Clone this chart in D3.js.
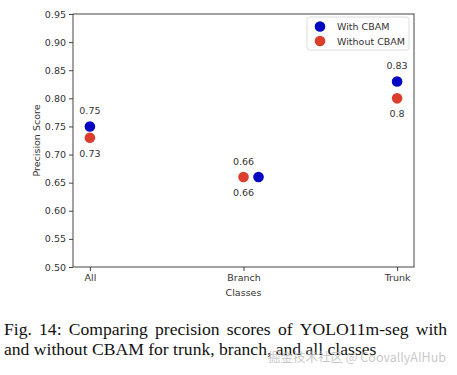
<!DOCTYPE html>
<head>
  <meta charset="utf-8">
  <script src="https://d3js.org/d3.v7.min.js"></script>
  <style>
    body { margin:0; padding:0; background:#fff; }
  </style>
</head>
<body>
  <svg id="chart" width="457" height="375"></svg>
  <script>
    // values
    var categories  = ["All", "Branch", "Trunk"];
    var withCbam    = [0.75, 0.66, 0.83];
    var withoutCbam = [0.73, 0.66, 0.80];
    var withLabels    = ["0.75", "0.66", "0.83"];
    var withoutLabels = ["0.73", "0.66", "0.8"];
    var seriesNames = ["With CBAM", "Without CBAM"];
    var yTicks = [0.50, 0.55, 0.60, 0.65, 0.70, 0.75, 0.80, 0.85, 0.90, 0.95];
    var captionLines = [
      "Fig. 14: Comparing precision scores of YOLO11m-seg with",
      "and without CBAM for trunk, branch, and all classes"
    ];

    var blue = "#0505c4", red = "#dc3e2e";
    var font = "DejaVu Sans, sans-serif";
    var margin = {left: 73, top: 14, right: 43, bottom: 108};
    var W = 457, H = 375;
    var svg = d3.select("#chart");

    var x = d3.scalePoint().domain(categories)
        .range([margin.left, W - margin.right]).padding(0.11);
    var y = d3.scaleLinear().domain([0.5, 0.95])
        .range([H - margin.bottom, margin.top]);

    // frame
    svg.append("rect")
      .attr("x", margin.left).attr("y", margin.top)
      .attr("width", W - margin.right - margin.left)
      .attr("height", H - margin.bottom - margin.top)
      .attr("fill", "none").attr("stroke", "#444").attr("stroke-width", 1);

    var yAxis = svg.append("g")
      .attr("transform", "translate(" + margin.left + ",0)")
      .call(d3.axisLeft(y).tickValues(yTicks).tickFormat(d3.format(".2f")).tickSize(4).tickPadding(3));
    var xAxis = svg.append("g")
      .attr("transform", "translate(0," + (H - margin.bottom) + ")")
      .call(d3.axisBottom(x).tickSize(4).tickPadding(3));
    [yAxis, xAxis].forEach(function(a) {
      a.select(".domain").remove();
      a.selectAll("line").attr("stroke", "#444");
      a.selectAll("text").attr("font-family", font).attr("font-size", 9.5).attr("fill", "#333");
    });

    svg.append("text")
      .attr("transform", "translate(37," + ((margin.top + H - margin.bottom) / 2) + ") rotate(-90)")
      .attr("text-anchor", "middle").attr("dominant-baseline", "middle")
      .attr("font-family", font).attr("font-size", 9.5).attr("fill", "#333")
      .text("Precision Score");
    svg.append("text")
      .attr("x", x("Branch")).attr("y", 296)
      .attr("text-anchor", "middle")
      .attr("font-family", font).attr("font-size", 9.5).attr("fill", "#333")
      .text("Classes");

    // points (blue nudged aside when both series coincide)
    var r = 5.3;
    categories.forEach(function(c, i) {
      var nudge = withCbam[i] === withoutCbam[i] ? 15 : 0;
      svg.append("circle").attr("cx", x(c)).attr("cy", y(withoutCbam[i])).attr("r", r).attr("fill", red);
      svg.append("circle").attr("cx", x(c) + nudge).attr("cy", y(withCbam[i])).attr("r", r).attr("fill", blue);
      svg.append("text").attr("x", x(c)).attr("y", y(withCbam[i]) - 12)
        .attr("text-anchor", "middle").attr("font-family", font).attr("font-size", 9.5).attr("fill", "#333")
        .text(withLabels[i]);
      svg.append("text").attr("x", x(c)).attr("y", y(withoutCbam[i]) + 19)
        .attr("text-anchor", "middle").attr("font-family", font).attr("font-size", 9.5).attr("fill", "#333")
        .text(withoutLabels[i]);
    });

    // legend
    var lg = svg.append("g").attr("transform", "translate(307,17)");
    lg.append("rect").attr("width", 102).attr("height", 33).attr("rx", 2.5)
      .attr("fill", "#fff").attr("stroke", "#ddd");
    seriesNames.forEach(function(n, i) {
      lg.append("circle").attr("cx", 13).attr("cy", 9.5 + i * 14.5).attr("r", r).attr("fill", i ? red : blue);
      lg.append("text").attr("x", 30).attr("y", 9.5 + i * 14.5)
        .attr("dominant-baseline", "central")
        .attr("font-family", font).attr("font-size", 9.5).attr("fill", "#333").text(n);
    });

    // caption, first line justified
    var capFont = "Liberation Serif, Times New Roman, serif";
    var capSize = 17.6;
    captionLines.forEach(function(line, li) {
      var words = line.split(" ");
      var yy = 335 + li * 20;
      var nodes = words.map(function(w) {
        return svg.append("text").attr("y", yy).attr("font-family", capFont)
          .attr("font-size", capSize).attr("fill", "#111").text(w);
      });
      var widths = nodes.map(function(n) { return n.node().getComputedTextLength(); });
      var total = d3.sum(widths);
      var gap = li === 0 ? (443 - total) / (words.length - 1) : capSize * 0.25;
      var xx = 4;
      nodes.forEach(function(n, k) { n.attr("x", xx); xx += widths[k] + gap; });
    });

    // watermark
    svg.append("text").attr("x", 446).attr("y", 362).attr("text-anchor", "end")
      .attr("font-family", "Noto Sans CJK SC, sans-serif").attr("font-size", 12.5)
      .attr("fill", "#bbb").attr("fill-opacity", 0.8)
      .text("掘金技术社区 @ CoovallyAIHub");
  </script>
</body>
